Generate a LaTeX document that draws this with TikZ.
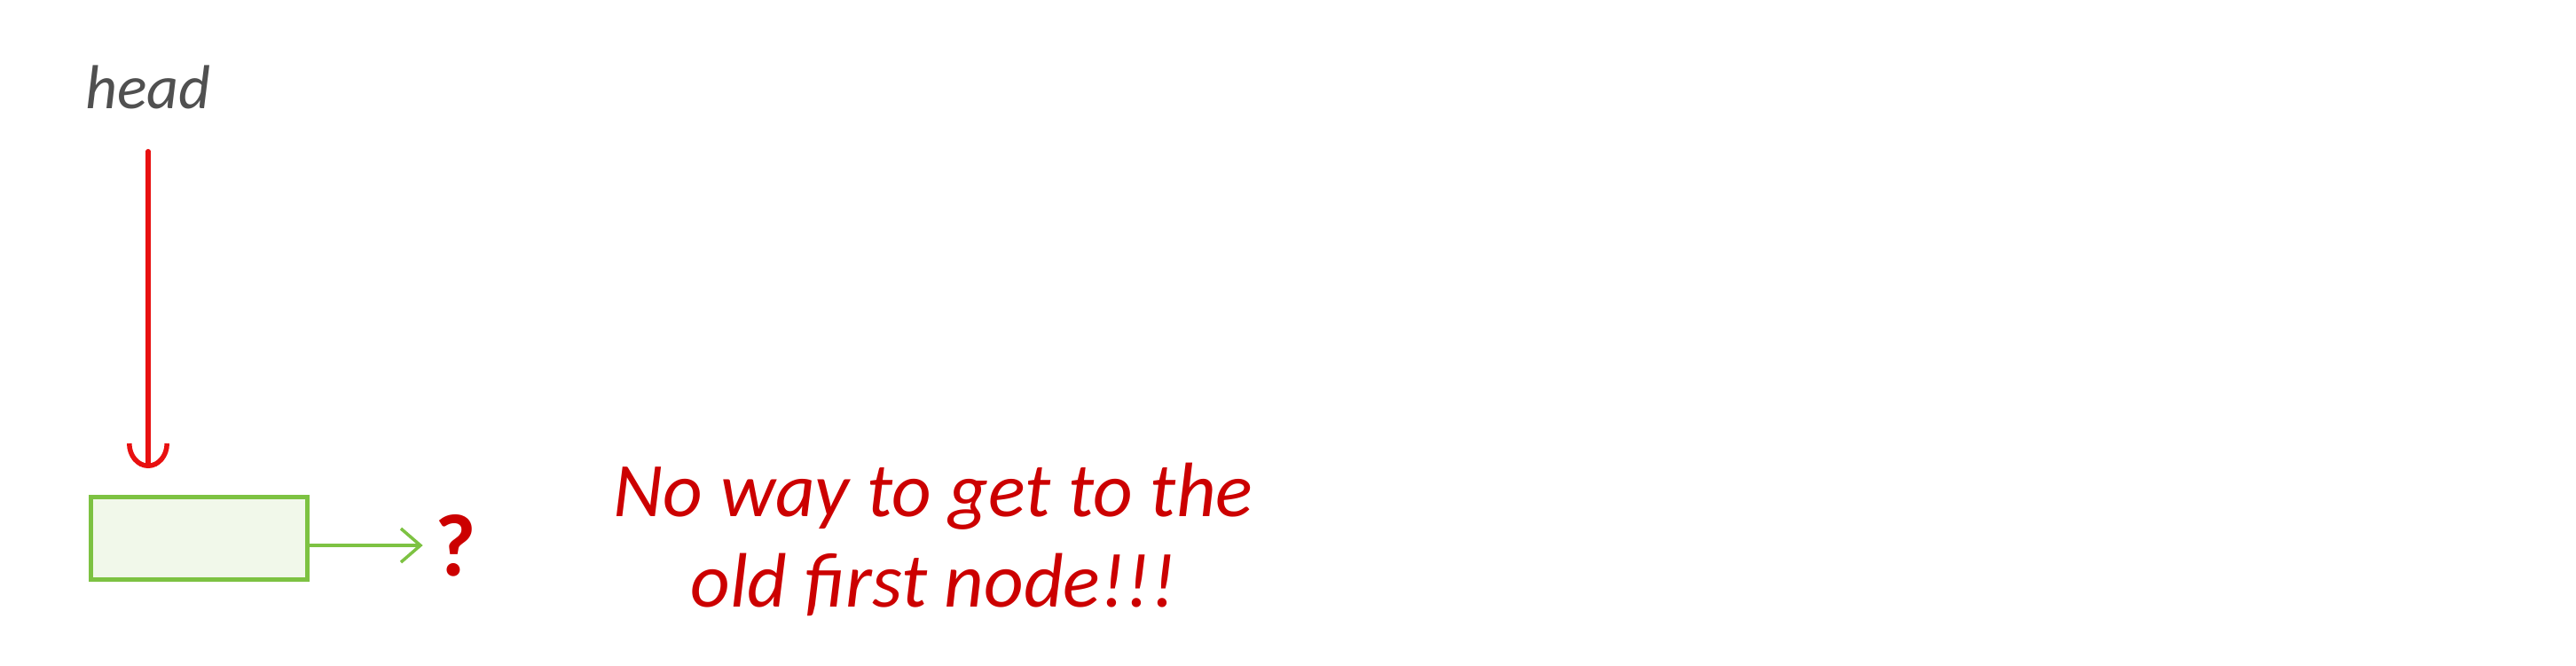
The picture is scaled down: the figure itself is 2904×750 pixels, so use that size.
\documentclass[tikz,border=0pt]{standalone}
\usepackage{fontspec}
\setmainfont{Carlito}
\usetikzlibrary{arrows.meta}
\definecolor{hgray}{HTML}{505050}
\definecolor{hred}{HTML}{E81010}
\definecolor{tred}{HTML}{CC0000}
\definecolor{hgreen}{HTML}{7DC242}
\definecolor{hfill}{HTML}{F1F8EA}
\tikzset{
  headlbl/.style={text=hgray, font=\itshape\fontsize{70}{74}\selectfont, inner sep=0pt},
  nodebox/.style={draw=hgreen, fill=hfill, line width=5pt, minimum width=244pt, minimum height=93pt, inner sep=0pt},
  redarrow/.style={draw=hred, line width=5.5pt, line cap=round, -{Arc Barb[length=28pt, width=48pt, line width=5.5pt]}},
  greenarrow/.style={draw=hgreen, line width=3.5pt, -{Straight Barb[length=22pt, width=38pt, line width=3.5pt]}},
  qmark/.style={text=tred, font=\bfseries\fontsize{100}{100}\selectfont, inner sep=0pt},
  msg/.style={text=tred, font=\itshape\fontsize{87}{102}\selectfont, align=center, inner sep=0pt}
}
\begin{document}
\begin{tikzpicture}[x=1pt, y=-1pt]
\useasboundingbox (0,0) rectangle (2904,750);
\node[headlbl] (head) at (167,98) {head};
\node[nodebox] (box) at (224,607) {};
\node[qmark] (q) at (514,615) {?};
\node[msg] (msg) at (1052,608) {No way to get to the\\old first node!!!};
\draw[redarrow, shorten <=48pt, shorten >=30pt] (head.south) -- (head.south |- box.north);
\draw[greenarrow, shorten >=14pt] (box.east |- q) -- (q.west);
\end{tikzpicture}
\end{document}
